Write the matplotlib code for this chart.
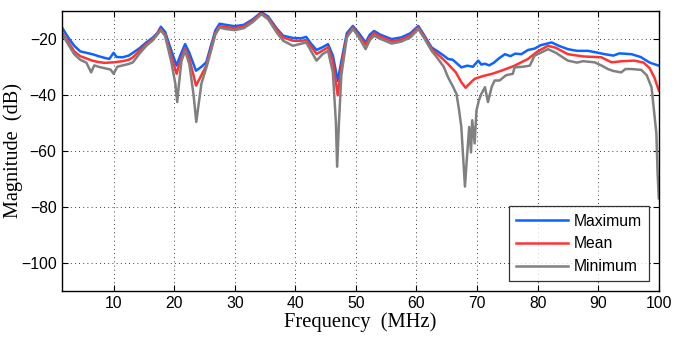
import matplotlib
matplotlib.use("Agg")
import matplotlib.pyplot as plt

# Maximum (blue)
freq_max = [1.5, 2.5, 3.5, 4.5, 5.5, 6.5, 7.5, 8.5, 9.3, 10.0, 10.5, 11.5, 12.5, 13.2,
            14.2, 15.4, 16.5, 17.2, 17.8, 18.5, 19.5, 20.4, 21.0, 21.8, 22.5, 23.6,
            24.5, 25.3, 26.0, 26.8, 27.5, 28.5, 30.0, 31.5, 33.0, 34.4, 35.5, 37.0,
            38.0, 39.6, 41.0, 41.8, 42.5, 43.5, 44.5, 45.4, 46.2, 47.0, 47.6, 48.5,
            49.5, 50.5, 51.6, 52.3, 53.0, 54.0, 55.9, 57.5, 59.0, 60.3, 61.2, 62.5,
            63.5, 64.5, 65.2, 66.0, 67.4, 68.4, 69.3, 70.2, 70.7, 71.3, 72.0, 72.8,
            73.6, 74.6, 75.5, 76.3, 77.3, 78.4, 79.5, 80.5, 82.3, 83.5, 85.0, 86.5,
            88.3, 89.5, 91.1, 92.5, 93.5, 95.5, 97.0, 98.5, 100.0]
mag_max = [-16.0, -19.5, -22.5, -24.5, -25.0, -25.5, -26.2, -26.8, -27.2, -25.0, -26.5,
           -26.6, -26.0, -25.0, -23.5, -21.3, -19.5, -18.0, -15.7, -17.5, -24.0, -29.6,
           -26.0, -21.9, -25.0, -31.4, -30.0, -28.4, -23.0, -17.0, -14.6, -15.0, -15.5,
           -15.0, -13.0, -10.5, -12.0, -16.5, -18.9, -19.7, -19.8, -19.3, -21.5, -24.0,
           -23.0, -21.9, -26.0, -35.0, -28.0, -18.0, -15.4, -18.0, -21.3, -18.5, -17.2,
           -18.5, -20.1, -19.5, -18.0, -15.4, -18.5, -23.1, -24.5, -26.0, -27.2, -27.5,
           -30.2, -29.6, -30.0, -27.8, -29.2, -28.9, -29.5, -28.5, -27.0, -25.5, -26.2,
           -25.3, -25.5, -24.0, -23.5, -22.3, -21.3, -22.5, -23.7, -24.3, -24.3, -24.8,
           -25.5, -26.0, -25.2, -25.5, -26.5, -28.5, -29.6]

# Mean (red)
freq_mean = [1.5, 2.5, 3.5, 4.5, 5.5, 6.5, 7.5, 8.5, 10.0, 11.5, 12.5, 13.2, 14.2, 15.4,
             16.5, 17.8, 18.5, 19.5, 20.4, 21.0, 21.8, 22.5, 23.6, 24.5, 25.3, 26.0,
             26.8, 27.5, 28.5, 30.0, 31.5, 33.0, 34.4, 35.5, 37.0, 38.0, 39.6, 41.0,
             41.8, 42.5, 43.5, 44.5, 45.4, 46.2, 47.0, 47.6, 48.5, 49.5, 50.5, 51.6,
             52.3, 53.0, 54.0, 55.9, 57.5, 59.0, 60.3, 61.2, 62.5, 64.0, 65.2, 66.5,
             67.4, 68.1, 69.0, 69.6, 71.0, 72.5, 74.0, 76.0, 78.4, 80.0, 81.7, 83.0,
             85.0, 87.5, 90.5, 92.2, 94.0, 96.0, 97.5, 98.5, 99.3, 100.0]
mag_mean = [-17.8, -21.0, -24.5, -26.2, -27.0, -27.8, -28.3, -28.6, -28.4, -28.0, -27.5,
            -26.6, -24.5, -21.9, -20.0, -16.6, -18.5, -26.0, -32.5, -28.0, -23.4, -27.0,
            -36.7, -33.0, -29.6, -24.0, -18.0, -15.5, -15.8, -16.2, -15.6, -13.5, -10.9,
            -12.5, -17.0, -19.5, -20.7, -20.7, -20.5, -22.5, -25.4, -24.2, -23.0, -28.0,
            -40.2, -30.0, -19.0, -16.0, -19.0, -22.1, -19.5, -18.0, -19.2, -20.9, -20.3,
            -18.8, -16.0, -19.0, -23.7, -26.5, -29.0, -32.0, -35.5, -37.5, -35.5, -34.3,
            -33.3, -32.5, -31.4, -29.8, -27.2, -24.5, -22.5, -23.2, -25.5, -26.3, -26.6,
            -28.4, -28.0, -27.8, -28.5, -30.5, -34.0, -38.5]

# Minimum (gray)
freq_min = [1.5, 2.5, 3.5, 4.5, 5.5, 6.3, 6.8, 7.5, 8.5, 9.5, 10.0, 10.6, 11.5, 12.5,
            13.2, 14.2, 15.4, 16.5, 17.8, 18.5, 19.5, 20.2, 20.5, 20.8, 21.2, 21.8,
            22.5, 23.2, 23.65, 24.0, 24.5, 25.3, 26.0, 26.8, 27.5, 28.5, 30.0, 31.5,
            33.0, 34.4, 35.5, 37.0, 38.0, 39.6, 40.5, 41.8, 42.5, 43.5, 44.5, 45.4,
            46.2, 46.7, 46.9, 47.2, 47.6, 48.5, 49.5, 50.5, 51.6, 52.3, 53.0, 54.0,
            55.9, 57.5, 59.0, 60.3, 61.2, 62.5, 63.5, 64.5, 65.2, 66.0, 66.6, 67.0,
            67.4, 67.7, 68.0, 68.3, 68.7, 69.0, 69.2, 69.6, 69.9, 70.3, 70.7, 71.3,
            71.8, 72.4, 72.9, 73.7, 74.8, 75.9, 76.2, 77.5, 78.7, 79.5, 80.5, 81.7,
            83.0, 85.0, 86.5, 87.5, 89.4, 90.5, 91.6, 92.5, 93.8, 94.5, 95.5, 97.1,
            98.0, 98.8, 99.6, 99.8, 100.0]
mag_min = [-18.3, -22.0, -25.5, -27.5, -28.5, -32.0, -29.5, -30.0, -30.5, -31.0, -32.5,
           -30.0, -29.5, -29.0, -28.4, -25.5, -22.5, -20.5, -16.9, -19.0, -28.0, -36.1,
           -42.6, -36.0, -28.0, -24.3, -29.0, -40.0, -49.7, -44.0, -36.0, -30.4, -25.0,
           -18.5, -16.0, -16.5, -16.9, -16.2, -14.0, -11.2, -13.0, -18.0, -20.7, -22.5,
           -22.0, -21.3, -24.0, -27.8, -25.5, -24.3, -32.0, -50.0, -65.7, -50.0, -33.0,
           -19.5, -16.5, -19.5, -23.7, -20.5, -18.9, -20.0, -21.7, -21.0, -19.5, -16.5,
           -19.5, -24.3, -27.0, -30.0, -33.7, -37.0, -39.7, -45.0, -51.5, -62.2, -72.8,
           -63.3, -51.5, -60.6, -49.1, -57.4, -45.6, -42.0, -39.7, -37.3, -42.6, -37.3,
           -34.9, -34.9, -33.0, -32.5, -30.2, -30.0, -29.6, -26.0, -25.0, -23.7, -25.0,
           -27.8, -28.5, -28.0, -28.4, -29.5, -30.8, -31.5, -32.0, -30.8, -30.8, -31.1,
           -33.0, -37.3, -53.8, -68.0, -77.0]

x_ticks = [10, 20, 30, 40, 50, 60, 70, 80, 90, 100]
y_ticks = [-100, -80, -60, -40, -20]

plt.rcParams["font.family"] = "Liberation Sans"

fig = plt.figure(figsize=(6.75, 3.38), dpi=100)
ax = fig.add_axes([0.092, 0.14, 0.884, 0.828])

ax.plot(freq_max, mag_max, color="#0a64ff", lw=1.8, label="Maximum")
ax.plot(freq_mean, mag_mean, color="#ff3333", lw=1.8, label="Mean")
ax.plot(freq_min, mag_min, color="#808080", lw=1.8, label="Minimum")

ax.set_xlim(1.5, 100)
ax.set_ylim(-110, -10)
ax.set_xticks(x_ticks)
ax.set_yticks(y_ticks)
ax.tick_params(direction="in", top=True, right=True, length=4, labelsize=11.3,
               width=0.8, pad=4)
ax.grid(True, color="black", linestyle=(0, (1, 4)), linewidth=0.6)
for s in ax.spines.values():
    s.set_linewidth(1.0)

ax.set_xlabel("Frequency  (MHz)", family="Liberation Serif", fontsize=14.8, labelpad=1)
ax.set_ylabel("Magnitude  (dB)", family="Liberation Serif", fontsize=14.6)
ax.yaxis.set_label_coords(-0.066, 0.5)

leg = ax.legend(loc="lower right", fontsize=11.3, handlelength=3.3, frameon=True,
                fancybox=False, borderaxespad=0.6, labelspacing=0.5,
                handletextpad=0.4, borderpad=0.45)
leg.get_frame().set_edgecolor("black")
leg.get_frame().set_linewidth(0.9)

fig.savefig("out.png", dpi=100)
